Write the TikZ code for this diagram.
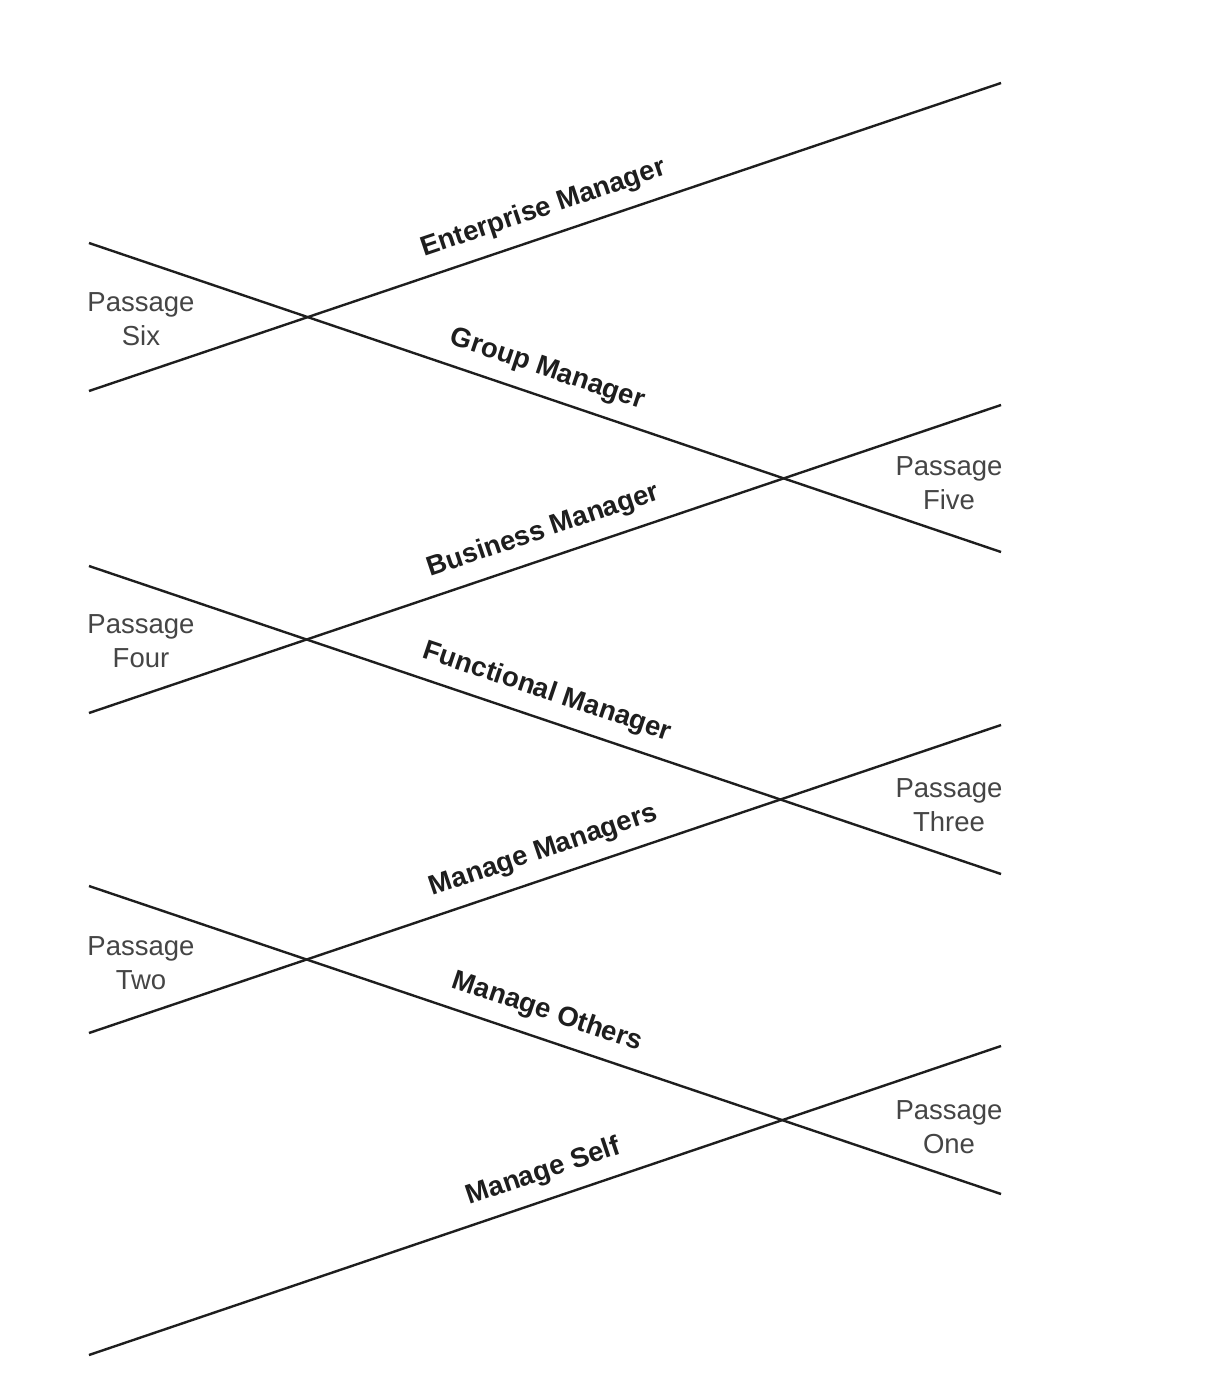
\documentclass[tikz,border=0pt]{standalone}
\usepackage{fontspec}
\setmainfont{Liberation Sans}
\definecolor{ink}{HTML}{1E1E1E}
\definecolor{pgray}{HTML}{454545}
\begin{document}
\begin{tikzpicture}[x=1pt,y=-1pt,
  ln/.style={draw=ink,line width=2.4pt,line cap=butt},
  lbl/.style={sloped,anchor=base,inner sep=0pt,yshift=20pt,text=ink,
    font=\fontsize{27.5}{33}\selectfont\bfseries},
  up/.style={lbl,pos=0.508},
  dn/.style={lbl,pos=0.493},
  pass/.style={align=center,inner sep=0pt,text=pgray,
    font=\fontsize{27.5}{34}\selectfont}]
\useasboundingbox[fill=white] (0,0) rectangle (1230,1388);
% endpoints
\coordinate (e1) at (89,391);  \coordinate (e2) at (1001,83);
\coordinate (g1) at (89,243);  \coordinate (g2) at (1001,552);
\coordinate (b1) at (89,713);  \coordinate (b2) at (1001,405);
\coordinate (f1) at (89,566);  \coordinate (f2) at (1001,874);
\coordinate (m1) at (89,1033); \coordinate (m2) at (1001,725);
\coordinate (o1) at (89,886);  \coordinate (o2) at (1001,1194);
\coordinate (s1) at (89,1355); \coordinate (s2) at (1001,1046);
% lines with labels
\draw[ln] (e1) -- node[up] (le) {Enterprise Manager} (e2);
\draw[ln] (g1) -- node[dn] (lg) {Group Manager} (g2);
\draw[ln] (b1) -- node[up] (lb) {Business Manager} (b2);
\draw[ln] (f1) -- node[dn] (lf) {Functional Manager} (f2);
\draw[ln] (m1) -- node[up] (lm) {Manage Managers} (m2);
\draw[ln] (o1) -- node[dn] (lo) {Manage Others} (o2);
\draw[ln] (s1) -- node[up] (ls) {Manage Self} (s2);
% passages
\node[pass] (p6) at (141,319) {Passage\\Six};
\node[pass] (p5) at (949,483) {Passage\\Five};
\node[pass] (p4) at (141,641) {Passage\\Four};
\node[pass] (p3) at (949,805) {Passage\\Three};
\node[pass] (p2) at (141,963) {Passage\\Two};
\node[pass] (p1) at (949,1127) {Passage\\One};
\end{tikzpicture}
\end{document}
